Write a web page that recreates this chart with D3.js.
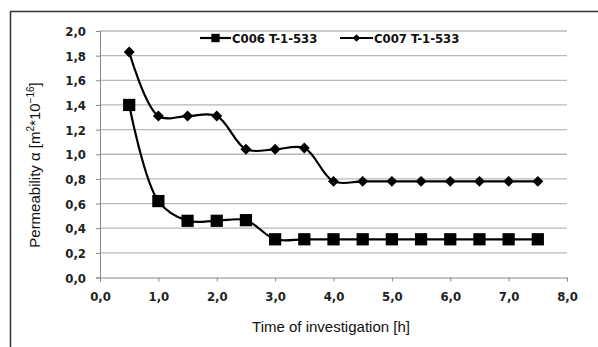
<!DOCTYPE html>
<html><head><meta charset="utf-8">
<script src="https://cdn.jsdelivr.net/npm/d3@7"></script>
<style>body{margin:0;background:#fff}svg{display:block}</style>
</head><body>
<svg id="c" width="598" height="347"></svg>
<script>
const times = [0.5,1.0,1.5,2.0,2.5,3.0,3.5,4.0,4.5,5.0,5.5,6.0,6.5,7.0,7.5];
const c006 = [1.40,0.62,0.46,0.46,0.465,0.31,0.31,0.31,0.31,0.31,0.31,0.31,0.31,0.31,0.31];
const c007 = [1.83,1.31,1.31,1.31,1.04,1.04,1.05,0.78,0.78,0.78,0.78,0.78,0.78,0.78,0.78];
const seriesNames = ["C006 T-1-533","C007 T-1-533"];
const xTicks = [0,1,2,3,4,5,6,7,8];
const yTicks = [0,0.2,0.4,0.6,0.8,1.0,1.2,1.4,1.6,1.8,2.0];

const svg = d3.select("#c");
const x = d3.scaleLinear().domain([0,8]).range([100,567]);
const y = d3.scaleLinear().domain([0,2]).range([277.5,31]);
const fmt = d => d.toFixed(1).replace(".",",");

// outer border (left & top only visible)
svg.append("path").attr("d","M10.5,347 L10.5,11.5 L598,11.5").attr("fill","none").attr("stroke","#333").attr("stroke-width",1.5);

// gridlines
svg.append("g").selectAll("line").data(yTicks.filter(d=>d>0)).join("line")
  .attr("x1",100).attr("x2",567).attr("y1",d=>y(d)).attr("y2",d=>y(d))
  .attr("stroke","#b8b8b8").attr("stroke-width",1.3);

// axes
const tickFont = "bold 13px 'DejaVu Sans Condensed', 'Liberation Sans', sans-serif";
const yAxis = svg.append("g").attr("transform","translate(100,0)")
  .call(d3.axisLeft(y).tickValues(yTicks).tickFormat(fmt).tickSize(4).tickPadding(10));
const xAxis = svg.append("g").attr("transform",`translate(0,${y(0)})`)
  .call(d3.axisBottom(x).tickValues(xTicks).tickFormat(fmt).tickSize(4).tickPadding(10));
[yAxis,xAxis].forEach(a=>{
  a.select(".domain").attr("stroke","#888").attr("stroke-width",1);
  a.selectAll(".tick line").attr("stroke","#888");
  a.selectAll("text").attr("fill","#222").style("font",tickFont);
});
yAxis.selectAll("text").attr("dy","0.35em");

// lines
const line = d3.line().x(d=>x(d[0])).y(d=>y(d[1])).curve(d3.curveCatmullRom.alpha(0.5));
const d6 = times.map((t,i)=>[t,c006[i]]);
const d7 = times.map((t,i)=>[t,c007[i]]);
svg.append("path").datum(d6).attr("d",line).attr("fill","none").attr("stroke","#000").attr("stroke-width",2.2);
svg.append("path").datum(d7).attr("d",line).attr("fill","none").attr("stroke","#000").attr("stroke-width",2.2);

const sq = d3.symbol().type(d3.symbolSquare).size(150);
const di = d3.symbol().type(d3.symbolSquare).size(60);
svg.append("g").selectAll("path").data(d6).join("path")
  .attr("transform",d=>`translate(${x(d[0])},${y(d[1])})`).attr("d",sq).attr("fill","#000");
svg.append("g").selectAll("path").data(d7).join("path")
  .attr("transform",d=>`translate(${x(d[0])},${y(d[1])}) rotate(45)`).attr("d",di).attr("fill","#000");

// legend
const leg = svg.append("g");
const legFont = "bold 13px 'DejaVu Sans Condensed', 'Liberation Sans', sans-serif";
leg.append("line").attr("x1",200).attr("x2",231).attr("y1",38).attr("y2",38).attr("stroke","#000").attr("stroke-width",2.2);
leg.append("path").attr("transform","translate(215.5,38)").attr("d",d3.symbol().type(d3.symbolSquare).size(70)).attr("fill","#000");
leg.append("text").attr("x",232).attr("y",42.5).text(seriesNames[0]).style("font",legFont).attr("fill","#111");
leg.append("line").attr("x1",340).attr("x2",373).attr("y1",38).attr("y2",38).attr("stroke","#000").attr("stroke-width",2.2);
leg.append("path").attr("transform","translate(356.5,38) rotate(45)").attr("d",d3.symbol().type(d3.symbolSquare).size(30)).attr("fill","#000");
leg.append("text").attr("x",374).attr("y",42.5).text(seriesNames[1]).style("font",legFont).attr("fill","#111");

// axis titles
svg.append("text").attr("x",331).attr("y",332).attr("text-anchor","middle")
  .style("font","15px 'Liberation Sans', Arial, sans-serif").attr("fill","#111").text("Time of investigation [h]");
const yt = svg.append("text").attr("transform","translate(40,165) rotate(-90)").attr("text-anchor","middle")
  .style("font","15px 'Liberation Sans', Arial, sans-serif").attr("fill","#111");
yt.append("tspan").text("Permeability α [m");
yt.append("tspan").attr("dy",-6).style("font-size","10px").text("2");
yt.append("tspan").attr("dy",6).text("*10");
yt.append("tspan").attr("dy",-6).style("font-size","10px").text("−16");
yt.append("tspan").attr("dy",6).text("]");
</script>
</body></html>
